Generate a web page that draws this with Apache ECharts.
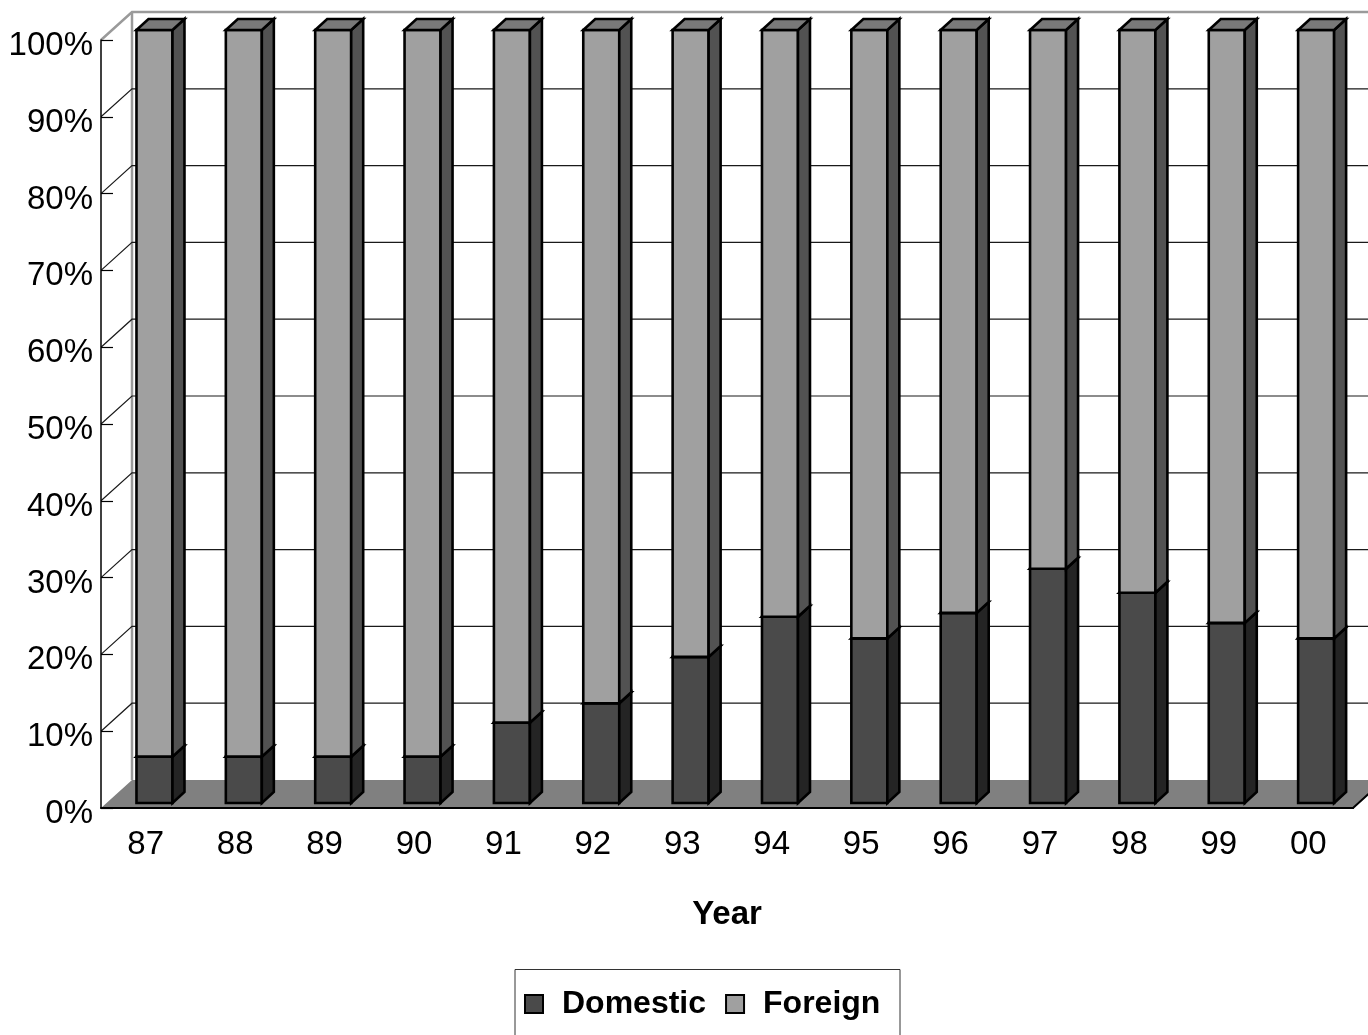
<!DOCTYPE html>
<html>
<head>
<meta charset="utf-8">
<script src="https://cdn.jsdelivr.net/npm/echarts@6/dist/echarts.min.js"></script>
<style>
  html, body { margin: 0; padding: 0; background: #fff; }
  #chart { width: 1368px; height: 1035px; }
</style>
</head>
<body>
<div id="chart"></div>
<script>
// Share of domestic vs foreign, by year (percent of total)
const years = ['87', '88', '89', '90', '91', '92', '93', '94', '95', '96', '97', '98', '99', '00'];
const domestic = [6, 6, 6, 6, 10.4, 12.9, 18.9, 24.1, 21.3, 24.6, 30.3, 27.2, 23.3, 21.3];
const foreign = [94, 94, 94, 94, 89.6, 87.1, 81.1, 75.9, 78.7, 75.4, 69.7, 72.8, 76.7, 78.7];
const yTicks = [0, 10, 20, 30, 40, 50, 60, 70, 80, 90, 100];

// Oblique offsets for the box walls and for the bar depth
const WALL_D = [31, -28];
const BAR_D = [12, -11];
const BAR_HALF = 18;

const FONT = 'Liberation Sans, Arial, sans-serif';

// Back wall, floor and their edges, drawn from the front-plane coordinate system
function renderBox(params, api) {
  const cs = params.coordSys;
  const [dx, dy] = WALL_D;
  const x0 = cs.x, x1 = cs.x + cs.width;
  const yb = api.coord([0, 0])[1];
  const yt = api.coord([0, 100])[1];
  const far = x1 + dx + 40;
  return {
    type: 'group',
    children: [
      { type: 'rect', shape: { x: x0 + dx, y: yt + dy, width: far - x0 - dx, height: yb - yt },
        style: { fill: '#fff' } },
      { type: 'polygon', shape: { points: [[x0, yb], [x1, yb], [x1 + dx, yb + dy], [far, yb + dy], [x0 + dx, yb + dy]] },
        style: { fill: '#808080' } },
      { type: 'polyline', shape: { points: [[x0, yt], [x0 + dx, yt + dy], [far, yt + dy]] },
        style: { stroke: '#9a9a9a', lineWidth: 2.5, fill: null } },
      { type: 'line', shape: { x1: x0 + dx, y1: yt + dy, x2: x0 + dx, y2: yb + dy },
        style: { stroke: '#9a9a9a', lineWidth: 2.5 } },
      { type: 'polyline', shape: { points: [[x0, yb], [x1, yb], [x1 + dx, yb + dy]] },
        style: { stroke: '#000', lineWidth: 2, fill: null } }
    ]
  };
}

// One gridline per tick: diagonal on the side wall, horizontal across the back wall
function renderGrid(params, api) {
  const v = api.value(1);
  if (v === 0 || v === 100) return null;
  const cs = params.coordSys;
  const [dx, dy] = WALL_D;
  const y = api.coord([0, v])[1];
  const x0 = cs.x;
  const far = cs.x + cs.width + dx + 40;
  return {
    type: 'polyline',
    shape: { points: [[x0, y], [x0 + dx, y + dy], [far, y + dy]] },
    style: { stroke: '#1a1a1a', lineWidth: 1.2, fill: null }
  };
}

// Oblique 3D bar segment between two values
function bar3d(face, side, top) {
  return function (params, api) {
    const i = api.value(0);
    const b = api.coord([i, api.value(1)]);
    const t = api.coord([i, api.value(2)]);
    const xl = b[0] - BAR_HALF, xr = b[0] + BAR_HALF;
    const [dx, dy] = BAR_D;
    const line = { stroke: '#000', lineWidth: 2.6, lineJoin: 'miter' };
    return {
      type: 'group',
      children: [
        { type: 'rect', shape: { x: xl, y: t[1], width: xr - xl, height: b[1] - t[1] },
          style: Object.assign({ fill: face }, line) },
        { type: 'polygon', shape: { points: [[xr, b[1]], [xr, t[1]], [xr + dx, t[1] + dy], [xr + dx, b[1] + dy]] },
          style: Object.assign({ fill: side }, line) },
        { type: 'polygon', shape: { points: [[xl, t[1]], [xr, t[1]], [xr + dx, t[1] + dy], [xl + dx, t[1] + dy]] },
          style: Object.assign({ fill: top }, line) }
      ]
    };
  };
}

const chart = echarts.init(document.getElementById('chart'), null, { renderer: 'canvas' });

chart.setOption({
  backgroundColor: '#fff',
  animation: false,
  grid: [
    { left: 101, top: 40, width: 1252, height: 768 },
    { left: 109.8, top: 30, width: 1251, height: 773 }
  ],
  xAxis: [
    {
      gridIndex: 0, type: 'category', data: years, z: 10,
      axisLine: { lineStyle: { color: '#000', width: 2 } },
      axisTick: { inside: true, length: 12, lineStyle: { color: '#000', width: 1.2 } },
      axisLabel: { color: '#000', fontFamily: FONT, fontSize: 33, margin: 20 },
      name: 'Year', nameLocation: 'middle', nameGap: 90,
      nameTextStyle: { color: '#000', fontFamily: FONT, fontSize: 33, fontWeight: 'bold' },
      splitLine: { show: false }
    },
    { gridIndex: 1, type: 'category', data: years, show: false }
  ],
  yAxis: [
    {
      gridIndex: 0, type: 'value', min: 0, max: 100, interval: 10, z: 10,
      axisLine: { show: true, lineStyle: { color: '#000', width: 1.5 } },
      axisTick: { show: true, inside: true, length: 12, lineStyle: { color: '#000', width: 1.2 } },
      axisLabel: { color: '#000', fontFamily: FONT, fontSize: 33, margin: 8, formatter: '{value}%',
        verticalAlign: 'top', lineHeight: 12 },
      splitLine: { show: false }
    },
    { gridIndex: 1, type: 'value', min: 0, max: 100, show: false }
  ],
  legend: {
    left: 524, top: 988, padding: 0,
    itemWidth: 18, itemHeight: 18, itemGap: 19,
    icon: 'rect',
    itemStyle: { borderColor: '#000', borderWidth: 2 },
    textStyle: { color: '#000', fontFamily: FONT, fontSize: 32, fontWeight: 'bold', padding: [0, 0, 0, 14] },
    data: ['Domestic', 'Foreign']
  },
  graphic: [
    { type: 'rect', left: 512.5, top: 967, shape: { width: 385, height: 90 },
      style: { fill: null, stroke: '#333', lineWidth: 1 }, z: 0 }
  ],
  series: [
    {
      type: 'custom', name: 'box', xAxisIndex: 0, yAxisIndex: 0, z: 1, silent: true,
      renderItem: renderBox, data: [[0, 0]], clip: false
    },
    {
      type: 'custom', name: 'grid', xAxisIndex: 0, yAxisIndex: 0, z: 2, silent: true,
      renderItem: renderGrid, data: yTicks.map(v => [0, v]), clip: false
    },
    {
      type: 'custom', name: 'Domestic', xAxisIndex: 1, yAxisIndex: 1, z: 5,
      itemStyle: { color: '#4a4a4a' },
      renderItem: bar3d('#4a4a4a', '#242424', '#3a3a3a'),
      encode: { x: 0, y: [1, 2] },
      data: years.map((_, i) => [i, 0, domestic[i]]), clip: false
    },
    {
      type: 'custom', name: 'Foreign', xAxisIndex: 1, yAxisIndex: 1, z: 5,
      itemStyle: { color: '#a0a0a0' },
      renderItem: bar3d('#a0a0a0', '#525252', '#797979'),
      encode: { x: 0, y: [1, 2] },
      data: years.map((_, i) => [i, domestic[i], domestic[i] + foreign[i]]), clip: false
    }
  ]
});
</script>
</body>
</html>
